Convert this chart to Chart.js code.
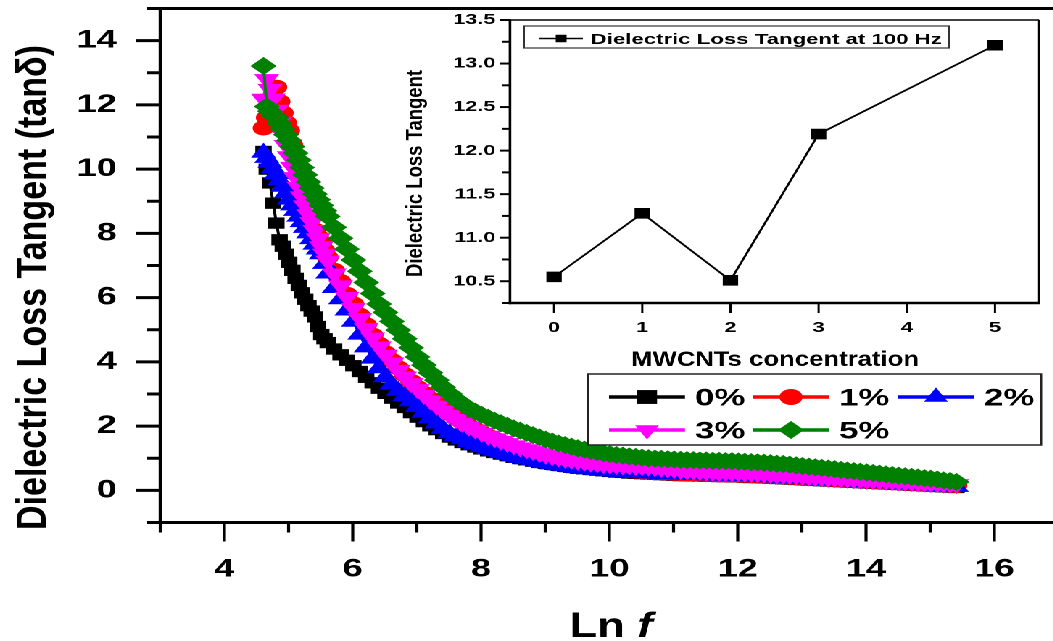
<!DOCTYPE html>
<html>
<head>
<meta charset="utf-8">
<script src="https://cdn.jsdelivr.net/npm/chart.js@4.4.1/dist/chart.umd.min.js"></script>
<style>
html,body{margin:0;padding:0;background:#fff;overflow:hidden;width:1053px;height:641px;}
#wrap{position:absolute;left:0;top:0;width:730px;height:641px;transform:scaleX(1.45);transform-origin:0 0;}
#wrap canvas{position:absolute;left:0;top:0;}
</style>
</head>
<body>
<div id="wrap">
<canvas id="main" width="730" height="641"></canvas>
<canvas id="inset" width="730" height="641"></canvas>
</div>
<script>
// ---------------- DATA ----------------
const lnF = [
4.61,4.66,4.71,4.76,4.81,4.86,4.91,4.96,5.01,5.06,5.11,5.16,5.21,5.26,5.31,5.36,5.41,5.46,5.51,5.56,5.61,
5.71,5.81,5.91,6.01,6.11,6.21,6.31,6.41,6.51,
6.61,6.71,6.81,6.91,7.01,7.11,7.21,7.31,7.41,7.51,
7.61,7.71,7.81,7.91,8.01,8.11,8.21,8.31,8.41,8.51,
8.61,8.71,8.81,8.91,9.01,9.11,9.21,9.31,9.41,9.51,
9.61,9.71,9.81,9.91,10.01,10.11,10.21,10.31,10.41,10.51,
10.61,10.71,10.81,10.91,11.01,11.11,11.21,11.31,11.41,11.51,
11.61,11.71,11.81,11.91,12.01,12.11,12.21,12.31,12.41,12.51,
12.61,12.71,12.81,12.91,13.01,13.11,13.21,13.31,13.41,13.51,
13.61,13.71,13.81,13.91,14.01,14.11,14.21,14.31,14.41,14.51,
14.61,14.71,14.81,14.91,15.01,15.11,15.21,15.31,15.41];

const tan0 = [
10.55,10.0,9.57,8.94,8.32,7.8,7.6,7.35,7.1,6.85,6.6,6.38,6.15,5.95,5.75,5.58,5.4,5.1,4.85,4.72,4.6,
4.4,4.22,4.05,3.88,3.7,3.52,3.35,3.18,3.02,
2.87,2.72,2.58,2.42,2.28,2.14,2.01,1.89,1.77,1.66,
1.57,1.49,1.42,1.35,1.29,1.23,1.18,1.13,1.08,1.03,
0.99,0.95,0.91,0.87,0.84,0.81,0.78,0.75,0.72,0.69,
0.67,0.65,0.63,0.61,0.59,0.57,0.56,0.54,0.53,0.52,
0.51,0.5,0.49,0.48,0.47,0.46,0.46,0.45,0.45,0.44,
0.44,0.43,0.43,0.42,0.42,0.41,0.4,0.4,0.39,0.38,
0.37,0.36,0.35,0.34,0.33,0.32,0.31,0.3,0.29,0.28,
0.27,0.26,0.25,0.24,0.23,0.22,0.21,0.2,0.19,0.18,
0.17,0.16,0.15,0.14,0.13,0.12,0.11,0.1,0.09];

const tan1 = [
11.28,11.6,11.7,12.2,12.55,12.1,11.75,11.45,11.2,10.75,10.3,9.95,9.6,9.3,9.0,8.5,8.1,7.9,7.7,7.47,7.25,
6.85,6.5,6.1,5.8,5.45,5.15,4.83,4.55,4.28,
4.04,3.81,3.6,3.39,3.2,3.02,2.85,2.68,2.53,2.39,
2.25,2.12,2.0,1.89,1.79,1.69,1.6,1.51,1.43,1.35,
1.28,1.21,1.15,1.09,1.03,0.98,0.93,0.89,0.85,0.81,
0.78,0.75,0.72,0.69,0.67,0.65,0.63,0.61,0.6,0.58,
0.57,0.56,0.55,0.54,0.53,0.52,0.51,0.5,0.5,0.49,
0.49,0.48,0.48,0.48,0.47,0.47,0.46,0.46,0.45,0.44,
0.43,0.42,0.41,0.4,0.39,0.38,0.37,0.36,0.35,0.34,
0.33,0.32,0.31,0.3,0.29,0.28,0.27,0.26,0.25,0.24,
0.23,0.22,0.21,0.2,0.19,0.18,0.17,0.16,0.15];

const tan2 = [
10.51,10.35,10.2,10.02,9.85,9.65,9.45,9.25,9.05,8.87,8.7,8.52,8.35,8.17,8.0,7.82,7.65,7.5,7.35,7.05,6.75,
6.3,5.95,5.6,5.25,4.85,4.45,4.1,3.8,3.52,
3.3,3.1,2.93,2.77,2.6,2.42,2.25,2.08,1.92,1.78,
1.68,1.59,1.5,1.42,1.35,1.28,1.22,1.16,1.11,1.06,
1.01,0.97,0.93,0.89,0.85,0.81,0.78,0.75,0.72,0.69,
0.67,0.65,0.63,0.61,0.59,0.58,0.57,0.56,0.55,0.54,
0.53,0.52,0.51,0.5,0.5,0.49,0.49,0.48,0.48,0.47,
0.47,0.46,0.46,0.45,0.45,0.44,0.44,0.43,0.42,0.41,
0.4,0.39,0.38,0.37,0.36,0.35,0.34,0.33,0.32,0.31,
0.3,0.29,0.28,0.27,0.26,0.25,0.24,0.23,0.22,0.21,
0.2,0.19,0.18,0.17,0.16,0.14,0.13,0.12,0.11];

const tan3 = [
12.19,12.8,12.5,12.2,11.85,11.47,11.1,10.75,10.4,10.07,9.75,9.45,9.15,8.87,8.6,8.35,8.1,7.85,7.6,7.37,7.15,
6.75,6.38,6.02,5.68,5.36,5.05,4.76,4.48,4.22,
3.98,3.75,3.54,3.34,3.15,2.97,2.8,2.64,2.49,2.35,
2.22,2.1,1.99,1.89,1.79,1.7,1.62,1.54,1.47,1.4,
1.34,1.28,1.22,1.16,1.11,1.06,1.02,0.98,0.95,0.92,
0.89,0.86,0.84,0.82,0.8,0.79,0.78,0.77,0.76,0.75,
0.74,0.72,0.7,0.68,0.66,0.64,0.62,0.61,0.6,0.59,
0.58,0.57,0.57,0.56,0.56,0.55,0.54,0.53,0.52,0.51,
0.5,0.49,0.47,0.46,0.45,0.43,0.42,0.41,0.39,0.38,
0.37,0.36,0.35,0.34,0.33,0.32,0.31,0.3,0.29,0.28,
0.27,0.26,0.25,0.24,0.23,0.22,0.21,0.2,0.19];

const tan5 = [
13.21,11.95,11.8,11.68,11.6,11.42,11.25,11.07,10.9,10.7,10.5,10.28,10.05,9.82,9.6,9.41,9.22,9.05,8.87,8.7,8.53,
8.19,7.85,7.51,7.17,6.82,6.47,6.13,5.8,5.54,
5.26,4.99,4.72,4.44,4.15,3.9,3.66,3.43,3.21,3.01,
2.84,2.69,2.56,2.45,2.35,2.26,2.17,2.09,2.01,1.93,
1.86,1.79,1.72,1.65,1.58,1.52,1.46,1.41,1.36,1.31,
1.27,1.23,1.19,1.16,1.13,1.1,1.08,1.06,1.04,1.02,
1.0,0.99,0.98,0.97,0.96,0.95,0.94,0.94,0.93,0.93,
0.92,0.92,0.91,0.91,0.9,0.89,0.88,0.87,0.86,0.85,
0.83,0.82,0.8,0.78,0.76,0.74,0.72,0.7,0.68,0.66,
0.64,0.62,0.6,0.58,0.56,0.54,0.52,0.5,0.48,0.46,
0.44,0.42,0.4,0.38,0.36,0.34,0.31,0.29,0.26];

const seriesLabels = ['0%','1%','2%','3%','5%'];
const seriesColors = ['#000000','#ff0000','#0000ff','#ff00ff','#008000'];

// inset
const mwcnt = [0, 1, 2, 3, 5];
const tanAt100Hz = [10.55, 11.28, 10.51, 12.19, 13.21];
const insetXTicks = [0, 1, 2, 3, 4, 5];

// axis ranges
const X_MIN = 3, X_MAX = 17, Y_MIN = -1, Y_MAX = 15;
const IX_MIN = -0.5, IX_MAX = 5.5, IY_MIN = 10.25, IY_MAX = 13.5;

// ---------------- DRAWING ----------------
const FONT = "'Liberation Sans', Arial, Helvetica, sans-serif";
const S = 1.45; // horizontal stretch of the whole figure
const seriesValues = [tan0, tan1, tan2, tan3, tan5];
const pointStyles = ['rect','circle','triangle','triangle','rectRot'];
const pointRot = [0,0,0,180,0];
const pointRad = [8,7.5,10,10,9];
const legendRad = [9.8,8,9.5,9.5,9];

function seg(ctx,x1,y1,x2,y2){ctx.beginPath();ctx.moveTo(x1,y1);ctx.lineTo(x2,y2);ctx.stroke();}

function mark(ctx, style, x, y, r, color, rot){
  ctx.save(); ctx.fillStyle = color; ctx.beginPath();
  if (style === 'rect') { const s = r*Math.SQRT1_2; ctx.rect(x-s,y-s,2*s,2*s); }
  else if (style === 'circle') { ctx.arc(x,y,r,0,Math.PI*2); }
  else if (style === 'triangle') { const g = rot ? -1 : 1; ctx.moveTo(x,y-g*r); ctx.lineTo(x+0.866*r,y+g*r/2); ctx.lineTo(x-0.866*r,y+g*r/2); ctx.closePath(); }
  else if (style === 'rectRot') { ctx.moveTo(x-r,y); ctx.lineTo(x,y-r); ctx.lineTo(x+r,y); ctx.lineTo(x,y+r); ctx.closePath(); }
  ctx.fill(); ctx.restore();
}

function fitText(ctx, parts, cx, base, targetW, rotated){
  ctx.save();
  let w = 0;
  parts.forEach(p => { ctx.font = p.font; w += ctx.measureText(p.text).width; });
  ctx.translate(cx, base);
  let k;
  if (rotated) { ctx.rotate(-Math.PI/2); k = targetW / w; }
  else { k = targetW / S / w; }
  ctx.scale(k, 1);
  ctx.fillStyle = '#000'; ctx.textBaseline = 'alphabetic'; ctx.textAlign = 'left';
  let xx = -w/2;
  parts.forEach(p => { ctx.font = p.font; ctx.fillText(p.text, xx, 0); xx += ctx.measureText(p.text).width; });
  ctx.restore();
}

function fixBox(size, key){
  return s => { s[key] = size; s.paddingTop = 0; s.paddingBottom = 0; s.paddingLeft = 0; s.paddingRight = 0; };
}

const mainDeco = {
  id: 'mainDeco',
  afterDraw(chart){
    const {ctx, chartArea:a, scales:{x, y}} = chart;
    ctx.save();
    ctx.strokeStyle = '#000';
    ctx.lineWidth = 3;
    seg(ctx, a.left, a.top, a.right + 5, a.top);
    seg(ctx, a.left, a.bottom, a.right + 5, a.bottom);
    ctx.lineWidth = 2.2;
    seg(ctx, a.left, a.top - 1.5, a.left, a.bottom + 1.5);
    ctx.lineWidth = 3;
    y.ticks.forEach(t => { const p = y.getPixelForValue(t.value); const len = t.label !== '' ? 16.5 : 9; seg(ctx, a.left - len, p, a.left, p); });
    ctx.lineWidth = 2.1;
    x.ticks.forEach(t => { const p = x.getPixelForValue(t.value); const len = t.label !== '' ? 19 : 10; seg(ctx, p, a.bottom, p, a.bottom + len); });

    fitText(ctx, [{text:'Dielectric Loss Tangent (tan\u03b4)', font:`bold 29px ${FONT}`}], 31.3, 287.5, 485, true);
    fitText(ctx, [{text:'Ln ', font:`bold 35px ${FONT}`},{text:'f', font:`italic bold 35px ${FONT}`}], 421.4, 637, 83, false);

    // legend
    ctx.fillStyle = '#fff'; ctx.fillRect(405.5, 374, 312.5, 71);
    ctx.strokeStyle = '#222'; ctx.lineWidth = 1.5; ctx.strokeRect(405.5, 374, 312.5, 71);
    const cols = [420, 519.3, 619.3], rows = [397, 430];
    chart.data.datasets.forEach((ds, i) => {
      const r = i < 3 ? 0 : 1, c = i < 3 ? i : i - 3;
      const x0 = cols[c], yy = rows[r];
      ctx.strokeStyle = ds.borderColor; ctx.lineWidth = 3.5;
      seg(ctx, x0, yy, x0 + 52.4, yy);
      mark(ctx, pointStyles[i], x0 + 26.2, yy, legendRad[i], ds.borderColor, pointRot[i]);
      ctx.fillStyle = '#000'; ctx.font = `bold 24px ${FONT}`; ctx.textBaseline = 'alphabetic'; ctx.textAlign = 'left';
      ctx.fillText(ds.label, x0 + 59.3, yy + 8.3);
    });
    ctx.restore();
  }
};

const tickFont = {family: FONT, size: 25, weight: 'bold', lineHeight: 1};

new Chart(document.getElementById('main'), {
  type: 'line',
  data: {
    datasets: seriesValues.map((vals, i) => ({
      label: seriesLabels[i],
      data: vals.map((v, j) => ({x: lnF[j], y: v})),
      borderColor: seriesColors[i],
      backgroundColor: seriesColors[i],
      borderWidth: 2,
      pointStyle: pointStyles[i],
      pointRotation: pointRot[i],
      pointRadius: pointRad[i],
      pointBorderWidth: 0,
      pointBackgroundColor: seriesColors[i],
      order: 5 - i
    }))
  },
  options: {
    responsive: false, animation: false, devicePixelRatio: 2, events: [],
    layout: {autoPadding: false, padding: {top: 8.5, left: 0, right: 0, bottom: 0}},
    plugins: {legend: {display: false}, tooltip: {enabled: false}},
    scales: {
      x: {type: 'linear', min: X_MIN, max: X_MAX,
          grid: {display: false, drawTicks: false}, border: {display: false},
          ticks: {stepSize: 1, autoSkip: false, maxRotation: 0, padding: 34.5, color: '#000', font: tickFont,
                  callback: v => (v % 2 === 0 ? String(v) : '')},
          afterFit: fixBox(118.5, 'height')},
      y: {type: 'linear', min: Y_MIN, max: Y_MAX,
          grid: {display: false, drawTicks: false}, border: {display: false},
          ticks: {stepSize: 1, autoSkip: false, padding: 30, color: '#000', font: tickFont,
                  callback: v => (v % 2 === 0 ? String(v) : '')},
          afterFit: fixBox(110.5, 'width')}
    }
  },
  plugins: [mainDeco]
});

const insetDeco = {
  id: 'insetDeco',
  afterDraw(chart){
    const {ctx, chartArea:a, scales:{x, y}} = chart;
    ctx.save();
    ctx.strokeStyle = '#000';
    ctx.lineWidth = 1.6; seg(ctx, a.left, a.top, a.right, a.top);
    ctx.lineWidth = 1.4; seg(ctx, a.right, a.top, a.right, a.bottom);
    ctx.lineWidth = 2.4; seg(ctx, a.left - 1, a.bottom, a.right + 0.7, a.bottom);
    ctx.lineWidth = 1.8; seg(ctx, a.left, a.top - 0.8, a.left, a.bottom + 1.2);
    ctx.lineWidth = 2;
    y.ticks.forEach(t => { const p = y.getPixelForValue(t.value); const len = t.label !== '' ? 7 : 5.5; seg(ctx, a.left - len, p, a.left, p); });
    ctx.lineWidth = 1.5;
    x.ticks.forEach(t => { const p = x.getPixelForValue(t.value); seg(ctx, p, a.bottom, p, a.bottom + 10); });

    fitText(ctx, [{text:'Dielectric Loss Tangent', font:`bold 15.4px ${FONT}`}], 291, 173.5, 207, true);
    fitText(ctx, [{text:'MWCNTs concentration', font:`bold 21px ${FONT}`}], 534.5, 366, 288, false);

    // legend
    ctx.fillStyle = '#fff'; ctx.fillRect(361.4, 26, 293.1, 22);
    ctx.strokeStyle = '#333'; ctx.lineWidth = 1.2; ctx.strokeRect(361.4, 26, 293.1, 22);
    const ds = chart.data.datasets[0];
    ctx.strokeStyle = '#000'; ctx.lineWidth = 1.6; seg(ctx, 372, 38.5, 402, 38.5);
    mark(ctx, 'rect', 387, 38.5, 5.3, '#000', 0);
    fitText(ctx, [{text: ds.label, font:`bold 15px ${FONT}`}], 407.4 + 351/S/2, 44, 351, false);
    ctx.restore();
  }
};

const insetFont = {family: FONT, size: 15, weight: 'bold', lineHeight: 1};
new Chart(document.getElementById('inset'), {
  type: 'line',
  data: {
    datasets: [{
      label: 'Dielectric Loss Tangent at 100 Hz',
      data: mwcnt.map((c, i) => ({x: c, y: tanAt100Hz[i]})),
      borderColor: '#000', backgroundColor: '#000', borderWidth: 1.6,
      pointStyle: 'rect', pointRadius: 7.5, pointBorderWidth: 0, pointBackgroundColor: '#000'
    }]
  },
  options: {
    responsive: false, animation: false, devicePixelRatio: 2, events: [],
    layout: {autoPadding: false, padding: {left: 280, right: 13.4, top: 20, bottom: 261}},
    plugins: {legend: {display: false}, tooltip: {enabled: false}},
    scales: {
      x: {type: 'linear', min: IX_MIN, max: IX_MAX,
          grid: {display: false, drawTicks: false}, border: {display: false},
          afterBuildTicks: s => { s.ticks = insetXTicks.map(v => ({value: v})); },
          ticks: {autoSkip: false, maxRotation: 0, padding: 17.5, color: '#000', font: insetFont,
                  callback: v => String(v)},
          afterFit: fixBox(77, 'height')},
      y: {type: 'linear', min: IY_MIN, max: IY_MAX,
          grid: {display: false, drawTicks: false}, border: {display: false},
          ticks: {stepSize: 0.25, autoSkip: false, padding: 10, color: '#000', font: insetFont,
                  callback: v => (Math.abs(v * 2 - Math.round(v * 2)) < 1e-6 ? v.toFixed(1) : '')},
          afterFit: fixBox(71.7, 'width')}
    }
  },
  plugins: [insetDeco]
});
</script>
</body>
</html>
